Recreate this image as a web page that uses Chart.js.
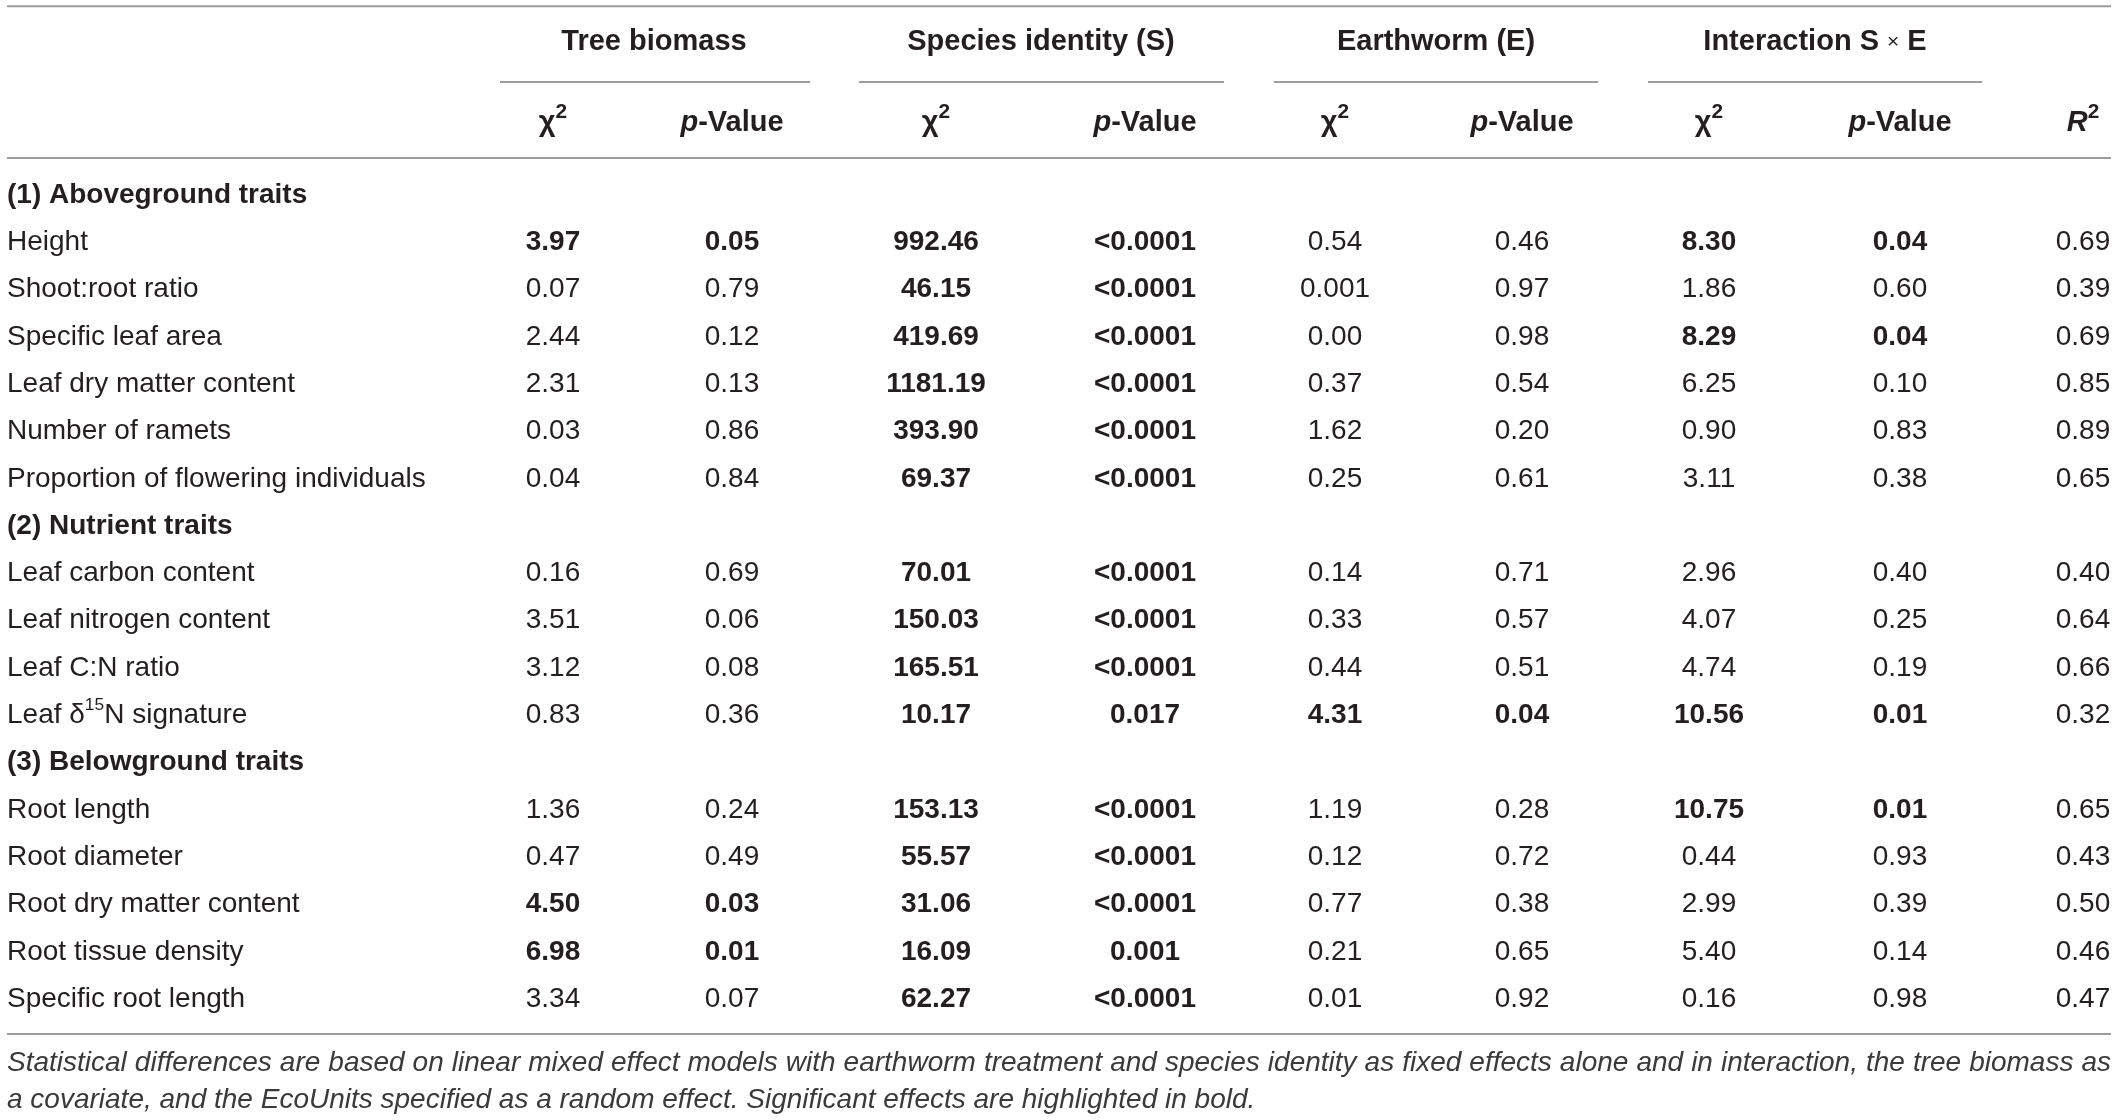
<!DOCTYPE html>
<html>
<head>
<meta charset="utf-8">
<script src="https://cdn.jsdelivr.net/npm/chart.js@4.4.1/dist/chart.umd.min.js"></script>
<style>
  html, body { margin: 0; padding: 0; background: #fff; }
  #wrap { width: 2118px; height: 1120px; }
</style>
</head>
<body>
<div id="wrap"><canvas id="tbl"></canvas></div>
<script>
// ---- table data ----
const sections = ['(1) Aboveground traits', '(2) Nutrient traits', '(3) Belowground traits'];
const sectionSizes = [6, 4, 5];
const traits = ['Height', 'Shoot:root ratio', 'Specific leaf area', 'Leaf dry matter content', 'Number of ramets',
  'Proportion of flowering individuals', 'Leaf carbon content', 'Leaf nitrogen content', 'Leaf C:N ratio',
  'Leaf δ^15^N signature', 'Root length', 'Root diameter', 'Root dry matter content', 'Root tissue density',
  'Specific root length'];

const groups = ['Tree biomass', 'Species identity (S)', 'Earthworm (E)', 'Interaction S _×_ E'];
const subHeads = ['χ^2^', '*p*-Value', 'χ^2^', '*p*-Value', 'χ^2^', '*p*-Value', 'χ^2^', '*p*-Value', '*R*^2^'];

const treeChi = ['3.97', '0.07', '2.44', '2.31', '0.03', '0.04', '0.16', '3.51', '3.12', '0.83', '1.36', '0.47', '4.50', '6.98', '3.34'];
const treeP   = ['0.05', '0.79', '0.12', '0.13', '0.86', '0.84', '0.69', '0.06', '0.08', '0.36', '0.24', '0.49', '0.03', '0.01', '0.07'];
const spChi   = ['992.46', '46.15', '419.69', '1181.19', '393.90', '69.37', '70.01', '150.03', '165.51', '10.17', '153.13', '55.57', '31.06', '16.09', '62.27'];
const spP     = ['<0.0001', '<0.0001', '<0.0001', '<0.0001', '<0.0001', '<0.0001', '<0.0001', '<0.0001', '<0.0001', '0.017', '<0.0001', '<0.0001', '<0.0001', '0.001', '<0.0001'];
const ewChi   = ['0.54', '0.001', '0.00', '0.37', '1.62', '0.25', '0.14', '0.33', '0.44', '4.31', '1.19', '0.12', '0.77', '0.21', '0.01'];
const ewP     = ['0.46', '0.97', '0.98', '0.54', '0.20', '0.61', '0.71', '0.57', '0.51', '0.04', '0.28', '0.72', '0.38', '0.65', '0.92'];
const intChi  = ['8.30', '1.86', '8.29', '6.25', '0.90', '3.11', '2.96', '4.07', '4.74', '10.56', '10.75', '0.44', '2.99', '5.40', '0.16'];
const intP    = ['0.04', '0.60', '0.04', '0.10', '0.83', '0.38', '0.40', '0.25', '0.19', '0.01', '0.01', '0.93', '0.39', '0.14', '0.98'];
const rSq     = ['0.69', '0.39', '0.69', '0.85', '0.89', '0.65', '0.40', '0.64', '0.66', '0.32', '0.65', '0.43', '0.50', '0.46', '0.47'];

// significant (bold) cells per effect group
const treeBold = [1, 0, 0, 0, 0, 0, 0, 0, 0, 0, 0, 0, 1, 1, 0];
const spBold   = [1, 1, 1, 1, 1, 1, 1, 1, 1, 1, 1, 1, 1, 1, 1];
const ewBold   = [0, 0, 0, 0, 0, 0, 0, 0, 0, 1, 0, 0, 0, 0, 0];
const intBold  = [1, 0, 1, 0, 0, 0, 0, 0, 0, 1, 1, 0, 0, 0, 0];

const footnote = ['Statistical differences are based on linear mixed effect models with earthworm treatment and species identity as fixed effects alone and in interaction, the tree biomass as',
  'a covariate, and the EcoUnits specified as a random effect. Significant effects are highlighted in bold.'];

// ---- layout (x in px, y in row units) ----
const FONT = '"Liberation Sans", Arial, sans-serif';
const TEXT = '#231f20';
const RULE = '#9c9c9c';
const labelX = 7;
const colX = [553, 732, 936, 1145, 1335, 1522, 1709, 1900, 2083];
const groupX = [654, 1041, 1436, 1815];
const groupSpan = [[500, 810], [859, 1224], [1274, 1598], [1648, 1982]];
const tableSpan = [7, 2111];
const rowY = {top: -3.99, group: -3.23, under: -2.39, sub: -1.52, head: -0.78, bottom: 17.74, foot1: 18.36, foot2: 19.14};

// build the body rows: section title then its traits
const bodyRows = [];
let t = 0;
sections.forEach((s, k) => {
  bodyRows.push({text: s, bold: true, section: true});
  for (let n = 0; n < sectionSizes[k]; n++) { bodyRows.push({text: traits[t], trait: t}); t++; }
});
const traitRow = bodyRows.map((r, i) => r.section ? null : i).filter(v => v !== null);

const columns = [treeChi, treeP, spChi, spP, ewChi, ewP, intChi, intP, rSq];
const colBold = [treeBold, treeBold, spBold, spBold, ewBold, ewBold, intBold, intBold, null];

function textSet(pts, texts, opts) {
  return Object.assign({
    data: pts, texts: texts, pointRadius: 0, pointHoverRadius: 0, showLine: false, clip: false
  }, opts);
}
function rule(x0, x1, y) {
  return {data: [{x: x0, y: y}, {x: x1, y: y}], showLine: true, borderColor: RULE, borderWidth: 2,
    pointRadius: 0, pointHoverRadius: 0, clip: false};
}

const datasets = [];
datasets.push(rule(tableSpan[0], tableSpan[1], rowY.top));
datasets.push(rule(tableSpan[0], tableSpan[1], rowY.head));
datasets.push(rule(tableSpan[0], tableSpan[1], rowY.bottom));
groupSpan.forEach(g => datasets.push(rule(g[0], g[1], rowY.under)));

datasets.push(textSet(groupX.map(x => ({x: x, y: rowY.group})), groups, {align: 'center', bold: groups.map(() => 1), size: 29}));
datasets.push(textSet(colX.map(x => ({x: x, y: rowY.sub})), subHeads, {align: 'center', bold: subHeads.map(() => 1), size: 29, supScale: 0.72}));
datasets.push(textSet(bodyRows.map((r, i) => ({x: labelX, y: i})), bodyRows.map(r => r.text),
  {align: 'left', bold: bodyRows.map(r => r.bold ? 1 : 0), size: 28}));
columns.forEach((vals, c) => {
  datasets.push(textSet(traitRow.map(i => ({x: colX[c], y: i})), vals,
    {align: 'center', bold: colBold[c] ? colBold[c] : vals.map(() => 0), size: 28}));
});
datasets.push(textSet([{x: tableSpan[0], y: rowY.foot1}, {x: tableSpan[0], y: rowY.foot2}], footnote,
  {align: 'left', italic: true, size: 28, color: '#3a3a3a', justify: [tableSpan[1] - tableSpan[0], 0], bold: [0, 0]}));

// tiny markup: ^..^ superscript, *..* italic, _.._ small
function parseRuns(str) {
  const runs = [];
  let sup = false, it = false, sm = false, buf = '';
  for (const ch of str) {
    if (ch === '^' || ch === '*' || ch === '_') {
      if (buf) runs.push({t: buf, sup, it, sm});
      buf = '';
      if (ch === '^') sup = !sup; else if (ch === '*') it = !it; else sm = !sm;
    } else buf += ch;
  }
  if (buf) runs.push({t: buf, sup, it, sm});
  return runs;
}

function runFont(r, size, bold, italic, supScale) {
  const s = r.sup ? size * (supScale || 0.62) : r.sm ? size * 0.72 : size;
  const w = (bold && !r.sm) ? 'bold ' : '';
  const i = (italic || r.it) ? 'italic ' : '';
  return i + w + s.toFixed(1) + 'px ' + FONT;
}

const cellText = {
  id: 'cellText',
  afterDatasetsDraw(chart) {
    const ctx = chart.ctx;
    ctx.save();
    ctx.textBaseline = 'middle';
    chart.data.datasets.forEach((ds, i) => {
      if (!ds.texts) return;
      const meta = chart.getDatasetMeta(i);
      meta.data.forEach((pt, j) => {
        const size = ds.size;
        const bold = ds.bold && ds.bold[j];
        ctx.fillStyle = ds.color || TEXT;
        const just = ds.justify && ds.justify[j];
        if (just) {
          const words = ds.texts[j].split(' ');
          ctx.font = runFont({}, size, bold, ds.italic);
          const total = words.reduce((a, w) => a + ctx.measureText(w).width, 0);
          const gap = (just - total) / (words.length - 1);
          let x = pt.x;
          words.forEach(w => { ctx.fillText(w, x, pt.y); x += ctx.measureText(w).width + gap; });
          return;
        }
        const runs = parseRuns(ds.texts[j]);
        let width = 0;
        runs.forEach(r => { ctx.font = runFont(r, size, bold, ds.italic, ds.supScale); r.w = ctx.measureText(r.t).width; width += r.w; });
        let x = ds.align === 'center' ? pt.x - width / 2 : ds.align === 'right' ? pt.x - width : pt.x;
        runs.forEach(r => {
          ctx.font = runFont(r, size, bold, ds.italic, ds.supScale);
          ctx.fillText(r.t, x, r.sup ? pt.y - size * 0.36 : pt.y);
          x += r.w;
        });
      });
    });
    ctx.restore();
  }
};

new Chart(document.getElementById('tbl'), {
  type: 'scatter',
  data: {datasets: datasets},
  options: {
    responsive: true,
    maintainAspectRatio: false,
    animation: false,
    events: [],
    layout: {padding: 0},
    plugins: {legend: {display: false}, tooltip: {enabled: false}},
    scales: {
      x: {type: 'linear', display: false, min: 0, max: 2118},
      y: {type: 'linear', display: false, reverse: true, min: -195 / 47.3, max: (1120 - 195) / 47.3}
    }
  },
  plugins: [cellText]
});
</script>
</body>
</html>
